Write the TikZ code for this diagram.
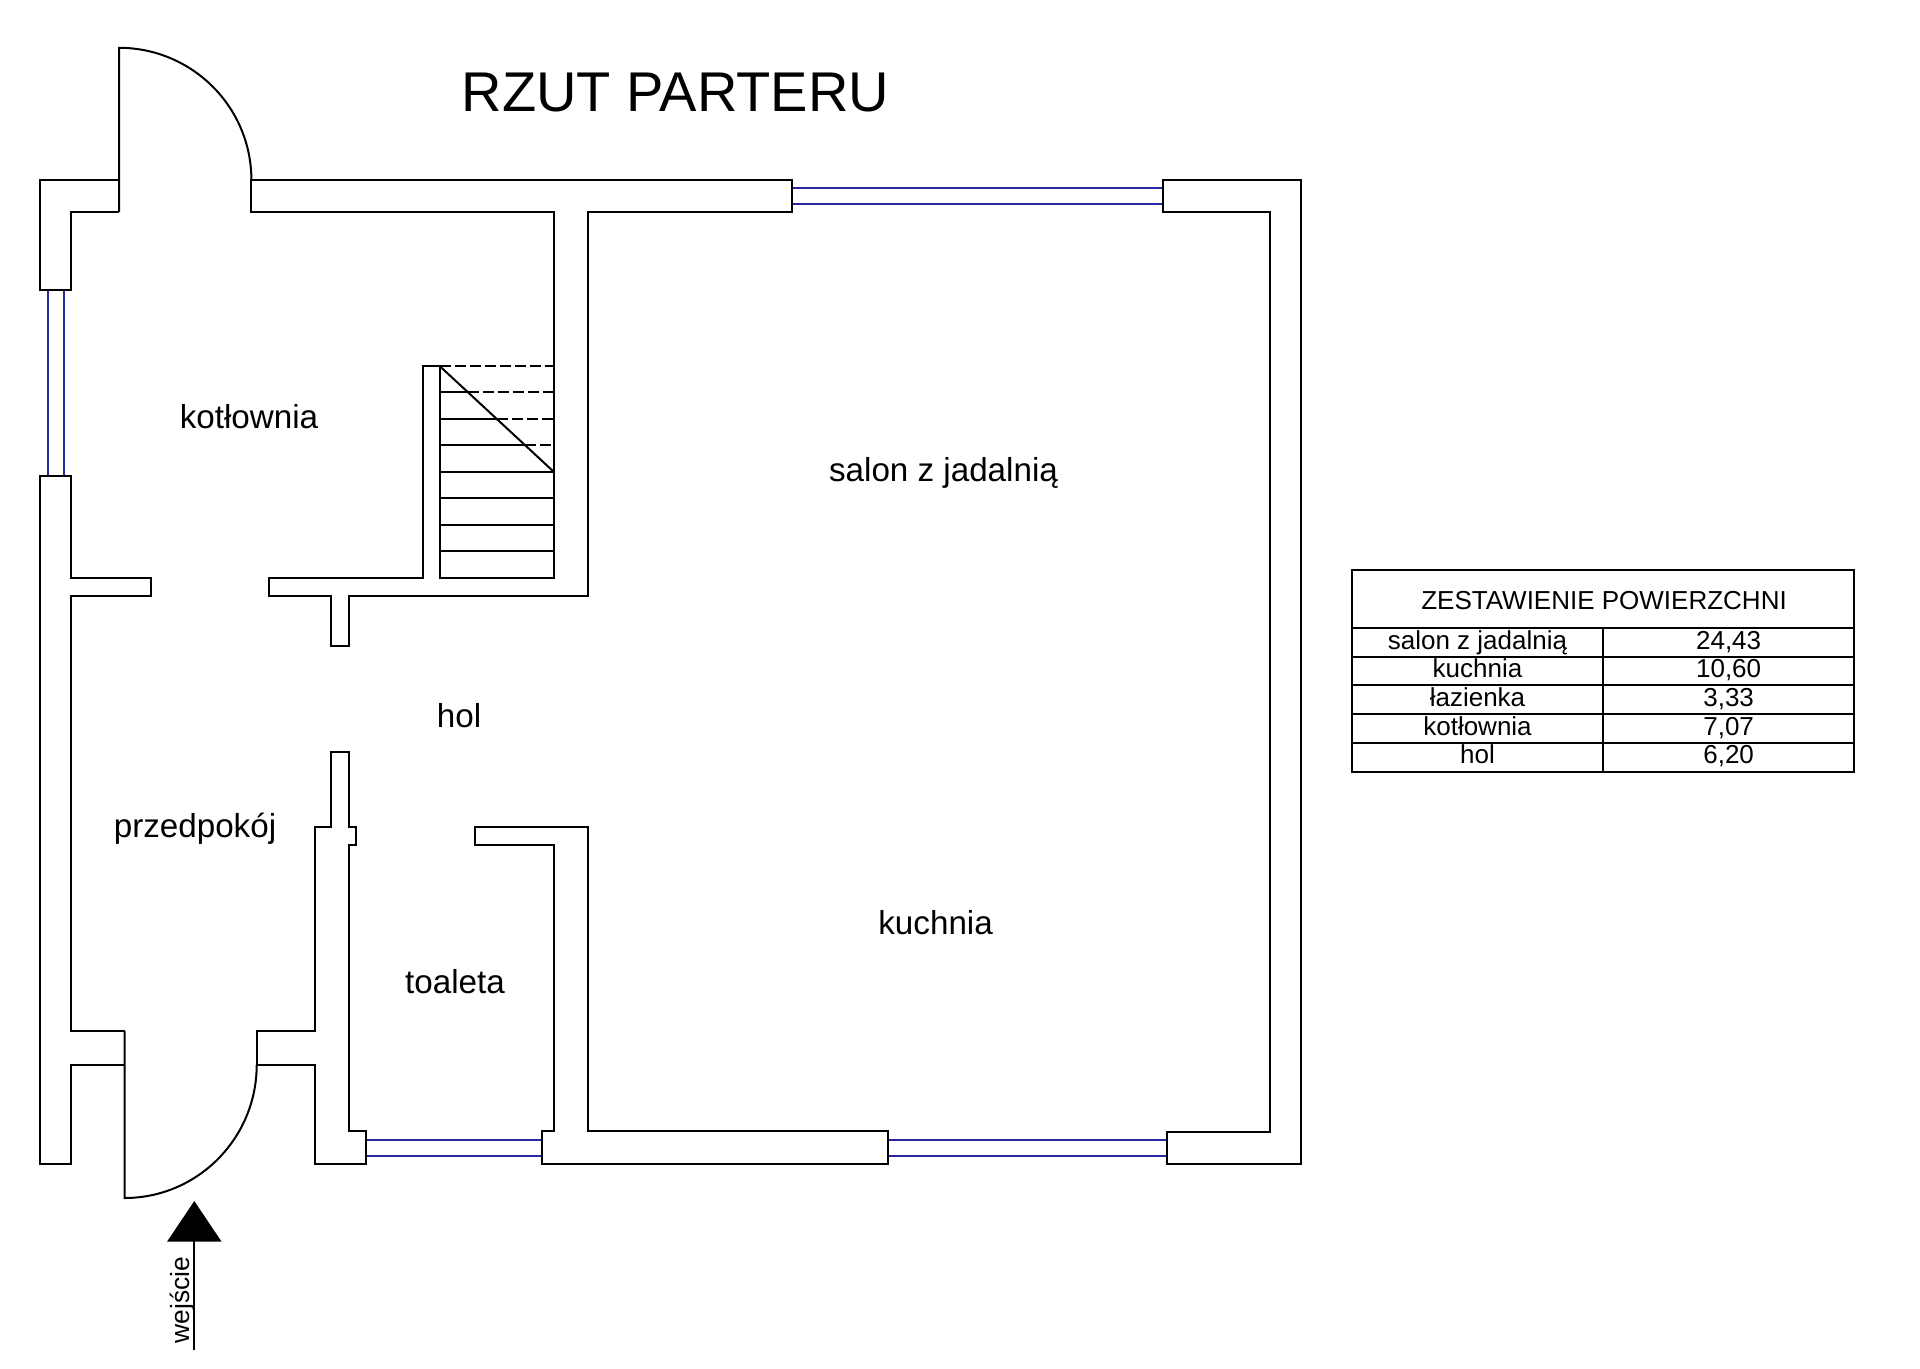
\documentclass[tikz,border=0pt]{standalone}
\usepackage{fontspec}
\setmainfont{Liberation Sans}
\usetikzlibrary{arrows.meta}
\tikzset{
    %Define style for walls
    sciana/.style={
           draw=black,
           line width=1pt,
           line join=miter},
    %Define style for windows
    okno/.style={
           draw=oknoblue,
           line width=1pt},
    %Define style for labels
    pokoj/.style={
           anchor=base,
           inner sep=0pt,
           font=\fontsize{16.6pt}{18pt}\selectfont},
    komorka/.style={
           anchor=base,
           inner sep=0pt,
           font=\fontsize{13pt}{15pt}\selectfont},
    % Define arrow style
    pil/.style={
           -{Triangle[length=20.3pt,width=27pt]},
           line width=1pt}
}
\definecolor{oknoblue}{RGB}{40,40,165}

\begin{document}
\begin{tikzpicture}[x=0.5pt,y=-0.5pt]
  \useasboundingbox (0,0) rectangle (1920,1369);
  % windows
  \draw[okno] (47.5,290) -- (47.5,476) (63.5,290) -- (63.5,476);
  \draw[okno] (792,188.5) -- (1162.5,188.5) (792,204) -- (1162.5,204);
  \draw[okno] (365.7,1139.5) -- (541.7,1139.5) (365.7,1155.5) -- (541.7,1155.5);
  \draw[okno] (888.4,1139.5) -- (1166.5,1139.5) (888.4,1155.5) -- (1166.5,1155.5);
  % walls
  \draw[sciana] (119,180) -- (39.6,180) -- (39.6,290) -- (71.4,290) -- (71.4,212) -- (119,212);
  \draw[sciana] (251.4,212) -- (251.4,180) -- (792,180) -- (792,212) -- (588,212) -- (588,596)
    -- (349.4,596) -- (349.4,645.6) -- (331,645.6) -- (331,596) -- (269,596) -- (269,578.4)
    -- (423,578.4) -- (423,366) -- (439.6,366) -- (439.6,578.4) -- (554,578.4) -- (554,212) -- cycle;
  \draw[sciana] (124.5,1031) -- (71.4,1031) -- (71.4,596) -- (151,596) -- (151,578.4) -- (71.4,578.4)
    -- (71.4,476) -- (39.6,476) -- (39.6,1163.5) -- (71.4,1163.5) -- (71.4,1065) -- (124.5,1065);
  \draw[sciana] (256.7,1065) -- (256.7,1031) -- (314.7,1031) -- (314.7,827) -- (331,827) -- (331,751.6)
    -- (349.4,751.6) -- (349.4,827) -- (356.3,827) -- (356.3,845) -- (349.4,845) -- (349.4,1131.4)
    -- (365.7,1131.4) -- (365.7,1163.5) -- (314.7,1163.5) -- (314.7,1065) -- cycle;
  \draw[sciana] (475,827) -- (588,827) -- (588,1131.4) -- (888.4,1131.4) -- (888.4,1163.5)
    -- (541.7,1163.5) -- (541.7,1131.4) -- (554,1131.4) -- (554,845) -- (475,845) -- cycle;
  \draw[sciana] (1162.5,180) -- (1301,180) -- (1301,1163.5) -- (1166.5,1163.5) -- (1166.5,1131.5)
    -- (1269.5,1131.5) -- (1269.5,212) -- (1162.5,212) -- cycle;
  % doors
  \draw[sciana] (119,212) -- (119,47.8) .. controls (192.1,47.8) and (251.4,107) .. (251.4,180);
  \draw[sciana] (124.5,1031) -- (124.5,1198) .. controls (197.6,1198) and (256.7,1138.2) .. (256.7,1065);
  % stairs
  \draw[sciana,dash pattern=on 5.5pt off 2pt] (439.6,366) -- (554,366);
  \foreach \y/\x in {392/467.7,419/496.7,445/525} {
    \draw[sciana] (439.6,\y) -- (\x,\y);
    \draw[sciana,dash pattern=on 5.5pt off 2pt] (\x,\y) -- (554,\y);
  }
  \foreach \y in {472,498,525,551}
    \draw[sciana] (439.6,\y) -- (554,\y);
  \draw[sciana] (439.6,366) -- (554,472);
  % entrance
  \coordinate (wejDol) at (194.3,1350);
  \coordinate (wejGora) at (194.3,1201);
  \draw[pil] (wejDol) -- (wejGora);
  \node[komorka,rotate=90,font=\fontsize{13.2pt}{15pt}\selectfont] (wejscie) at (189.8,1300) {wejście};
  % labels
  \node[inner sep=0pt,anchor=base,font=\fontsize{28pt}{30pt}\selectfont] (tytul) at (675.5,112) {RZUT PARTERU};
  \node[pokoj] (kotlownia) at (249,428) {kotłownia};
  \node[pokoj] (hol) at (459,727) {hol};
  \node[pokoj] (przedpokoj) at (195,837) {przedpokój};
  \node[pokoj] (toaleta) at (455,993) {toaleta};
  \node[pokoj] (salon) at (943.5,481) {salon z jadalnią};
  \node[pokoj] (kuchnia) at (935.6,934) {kuchnia};
  % table
  \draw[sciana] (1352.1,570) rectangle (1854.3,771.7);
  \draw[sciana] (1603.2,627.7) -- (1603.2,771.7);
  \foreach \y in {627.7,656.7,685.3,714.3,743}
    \draw[sciana] (1352.1,\y) -- (1854.3,\y);
  \node[komorka] (zestawienie) at (1604,609) {ZESTAWIENIE POWIERZCHNI};
  \foreach \y/\nazwa/\pole in {649/salon z jadalnią/{24,43}, 677.3/kuchnia/{10,60}, 706/łazienka/{3,33}, 735/kotłownia/{7,07}, 763.3/hol/{6,20}} {
    \node[komorka] at (1477.5,\y) {\nazwa};
    \node[komorka] at (1728.6,\y) {\pole};
  }
\end{tikzpicture}
\end{document}
